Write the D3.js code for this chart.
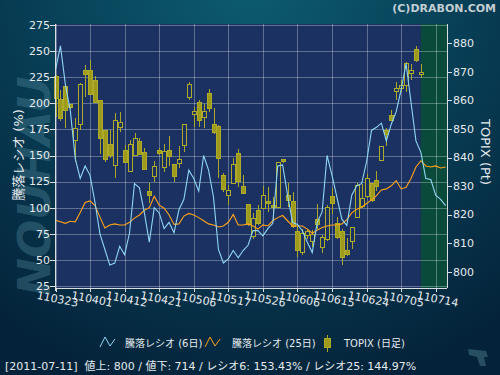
<!DOCTYPE html>
<html>
<head>
<meta charset="utf-8">
<script src="https://cdn.jsdelivr.net/npm/d3@7"></script>
<style>
body{margin:0;background:#04233a;}
svg{display:block;font-family:"DejaVu Sans","Noto Sans CJK JP",sans-serif;}
</style>
</head>
<body>
<svg id="chart" width="500" height="375"></svg>
<script>
// x axis labels (every 7 trading days)
const tickLabels = ["110323","110401","110412","110421","110506","110517","110526","110606","110615","110624","110705","110714"];
const tickIndex = [0,7,14,21,28,35,42,49,56,63,70,77];
const leftTicks = [25,50,75,100,125,150,175,200,225,250,275];
const rightTicks = [800,810,820,830,840,850,860,870,880];

// 騰落レシオ (6日)
const ratio6 = [232,255,218,193,147,128,140,131,105,75,
  60,45,47,63,55,76,123,119,95,67,
  100,95,80,86,76,98,108,136,128,116,
  150,136,110,60,47,51,59,52,59,64,
  78,78,73,80,85,140,141,112,86,84,
  78,67,57,86,96,150,131,110,89,83,
  112,121,123,144,174,177,181,164,180,192,
  213,238,201,164,153,128,127,112,108,102];

// 騰落レシオ (25日)
const ratio25 = [88,86.5,85,87,86.5,95.5,105,106.5,102,91,
  80.5,83.5,84.5,83.5,83.5,86,90,93,97.5,100,
  111,102.5,99.5,93,84,84.5,92,94.5,93,90.5,
  87.5,84.5,83.5,81.5,82.5,86,93.5,83.5,83.5,84.5,
  82.5,79.5,83.5,82.5,87.5,90.5,92.5,87.5,82.5,82.5,
  82.5,79.5,75.5,78.5,81,82.5,83.5,83.5,84.5,88.5,
  95,98.5,100.5,104,107.5,111.5,117,118,121,126,
  118,119.5,128,139,145,140,139,140,138,139];

// TOPIX daily
const topixOpen = [868.3,860.4,864.8,858.6,845.9,851.6,870.6,870.6,867.1,859.8,
  849.6,844.7,837.3,850.4,842.3,835.0,840.8,845.5,841.7,828.0,
  833.5,842.3,836.5,842.6,837.7,837.9,844.3,861.1,854.9,859.3,
  854.0,862.5,851.6,851.0,833.8,826.6,830.9,841.4,829.7,823.6,
  812.2,821.6,822.2,824.7,823.3,822.4,839.3,826.8,824.7,814.2,
  806.7,812.6,810.5,818.4,808.4,811.4,826.5,816.9,814.2,807.6,
  810.7,819.0,822.7,826.2,830.9,832.1,839.1,849.3,854.6,863.0,
  864.0,865.1,869.3,877.9,868.9];
const topixHigh = [868.9,863.6,865.4,858.9,853.9,866.0,872.4,874.1,868.5,859.8,
  849.6,849.6,855.7,855.8,844.4,846.1,848.7,846.9,843.2,831.1,
  838.9,843.4,844.7,847.5,837.7,844.1,851.6,866.5,857.8,860.1,
  858.9,864.0,857.2,851.4,834.4,830.3,839.7,842.9,833.8,823.6,
  820.4,823.3,830.1,829.7,826.2,838.5,839.4,830.9,828.0,816.3,
  815.1,815.1,814.6,823.6,812.8,823.3,829.4,819.2,815.1,811.9,
  815.5,830.9,830.6,834.1,830.9,835.2,844.0,850.4,856.6,866.5,
  867.1,873.3,872.6,879.0,872.6];
const topixLow = [854.3,852.8,850.2,857.0,838.5,849.6,861.3,861.9,859.2,841.4,
  838.5,839.9,832.7,849.0,837.9,834.8,840.6,840.8,835.6,823.9,
  831.5,840.8,835.0,837.0,831.5,836.4,842.0,860.1,850.8,850.8,
  850.2,856.0,848.4,832.7,828.0,823.3,830.7,829.7,827.2,816.1,
  811.6,816.3,821.9,821.0,818.1,822.2,837.9,822.7,815.4,805.2,
  805.8,811.4,808.7,815.1,806.7,810.7,820.1,811.6,802.5,805.6,
  808.1,819.0,822.4,825.9,824.5,828.3,838.9,844.0,852.8,860.1,
  862.8,863.0,867.1,873.5,867.9];
const topixClose = [860.7,853.5,856.6,857.4,850.2,865.6,868.9,862.1,859.3,846.7,
  839.4,840.6,852.8,852.2,838.3,844.4,846.5,841.1,835.9,826.8,
  837.0,841.4,842.0,840.3,833.3,839.4,851.6,865.4,856.0,852.9,
  856.0,857.2,848.8,839.7,828.9,828.3,837.6,831.5,827.4,816.5,
  818.7,816.9,826.8,823.9,822.5,838.2,838.5,825.1,815.7,807.6,
  813.4,814.2,813.1,816.7,811.9,822.5,823.9,811.9,804.9,806.0,
  815.5,830.1,825.7,832.7,825.1,829.7,843.8,848.2,853.1,864.0,
  865.1,873.0,870.3,874.1,869.8];

// status line values
const lastDate = "2011-07-11";
const advances = 800;
const declines = 714;
const lastRatio6 = "153.43";
const lastRatio25 = "144.97";

const svg = d3.select("#chart");
const W = 500, H = 375;
const plotL = 55, plotR = 447, plotT = 24, plotB = 288;

const x = d3.scaleLinear().domain([0, 77]).range([55.5, 435.7]);
const yL = d3.scaleLinear().domain([25, 275]).range([286, 25]);
const yR = d3.scaleLinear().domain([800, 880]).range([271.7, 43.3]);

// background
const defs = svg.append("defs");
const bg = defs.append("radialGradient").attr("id", "bg")
  .attr("gradientUnits", "userSpaceOnUse")
  .attr("cx", 250).attr("cy", -20).attr("r", 420);
bg.append("stop").attr("offset", 0).attr("stop-color", "#0d5c6f");
bg.append("stop").attr("offset", 0.45).attr("stop-color", "#08435a");
bg.append("stop").attr("offset", 1).attr("stop-color", "#04233a");
svg.append("rect").attr("width", W).attr("height", H).attr("fill", "url(#bg)");

// watermark
svg.append("text")
  .attr("transform", "translate(50,186) rotate(-90)")
  .attr("text-anchor", "middle")
  .style("font-size", "45px").style("font-weight", "bold").style("font-style", "italic")
  .attr("fill", "#6aa3b4").attr("fill-opacity", 0.3)
  .text("NOUHAU");

// plot areas
const lastIdx = topixClose.length - 1;
svg.append("rect").attr("x", plotL).attr("y", plotT)
  .attr("width", x(lastIdx) - plotL).attr("height", plotB - plotT)
  .attr("fill", "#1b3161");
svg.append("rect").attr("x", x(lastIdx)).attr("y", plotT)
  .attr("width", plotR - x(lastIdx)).attr("height", plotB - plotT)
  .attr("fill", "#0a4a3b");

// grid
const grid = svg.append("g").attr("stroke", "#ffffff").attr("stroke-opacity", 0.3).attr("shape-rendering", "crispEdges");
grid.selectAll("line.h").data(leftTicks).enter().append("line")
  .attr("x1", plotL).attr("x2", plotR)
  .attr("y1", d => Math.round(yL(d)) + 0.5).attr("y2", d => Math.round(yL(d)) + 0.5);
grid.selectAll("line.v").data(tickIndex).enter().append("line")
  .attr("x1", d => Math.round(x(d)) + 0.5).attr("x2", d => Math.round(x(d)) + 0.5)
  .attr("y1", plotT).attr("y2", plotB);

// candles
const cand = svg.append("g").attr("shape-rendering", "crispEdges");
const idx = d3.range(topixClose.length);
cand.selectAll("line").data(idx).enter().append("line")
  .attr("x1", i => Math.round(x(i)) + 0.5).attr("x2", i => Math.round(x(i)) + 0.5)
  .attr("y1", i => yR(topixHigh[i])).attr("y2", i => yR(topixLow[i]))
  .attr("stroke", "#aaa826");
cand.selectAll("rect").data(idx).enter().append("rect")
  .attr("x", i => Math.round(x(i)) - 1.5)
  .attr("width", 4)
  .attr("y", i => yR(Math.max(topixOpen[i], topixClose[i])))
  .attr("height", i => Math.max(1, Math.abs(yR(topixOpen[i]) - yR(topixClose[i]))))
  .attr("fill", i => topixClose[i] < topixOpen[i] ? "#9d9a1c" : "#1b3161")
  .attr("stroke", "#aeab2a");

// ratio lines
const line = d3.line().x((d, i) => x(i)).y(d => yL(d));
svg.append("path").datum(ratio25).attr("d", line)
  .attr("fill", "none").attr("stroke", "#ffa31a").attr("stroke-width", 1.1);
svg.append("path").datum(ratio6).attr("d", line)
  .attr("fill", "none").attr("stroke", "#8fd6f4").attr("stroke-width", 1.1);

// axes
const ax = svg.append("g").attr("stroke", "#d8dde2").attr("shape-rendering", "crispEdges");
ax.append("line").attr("x1", plotL + 0.5).attr("x2", plotL + 0.5).attr("y1", plotT).attr("y2", plotB + 3);
ax.append("line").attr("x1", plotR + 0.5).attr("x2", plotR + 0.5).attr("y1", plotT).attr("y2", plotB);
ax.append("line").attr("x1", plotL).attr("x2", plotR).attr("y1", plotB + 0.5).attr("y2", plotB + 0.5);
ax.selectAll("line.lt").data(leftTicks).enter().append("line")
  .attr("x1", plotL - 5).attr("x2", plotL)
  .attr("y1", d => Math.round(yL(d)) + 0.5).attr("y2", d => Math.round(yL(d)) + 0.5);
ax.selectAll("line.rt").data(rightTicks).enter().append("line")
  .attr("x1", plotR).attr("x2", plotR + 5)
  .attr("y1", d => Math.round(yR(d)) + 0.5).attr("y2", d => Math.round(yR(d)) + 0.5);
ax.selectAll("line.bt").data(tickIndex).enter().append("line")
  .attr("x1", d => Math.round(x(d)) + 0.5).attr("x2", d => Math.round(x(d)) + 0.5)
  .attr("y1", plotB).attr("y2", plotB + 4);

const txt = "#e6eaee";
svg.append("g").selectAll("text").data(leftTicks).enter().append("text")
  .attr("x", plotL - 5).attr("y", d => yL(d)).attr("dy", "0.35em")
  .attr("text-anchor", "end").attr("fill", txt).style("font-size", "11px")
  .text(d => d);
svg.append("g").selectAll("text").data(rightTicks).enter().append("text")
  .attr("x", plotR + 6).attr("y", d => yR(d)).attr("dy", "0.35em")
  .attr("fill", txt).style("font-size", "11px")
  .text(d => d);
svg.append("g").selectAll("text").data(tickIndex).enter().append("text")
  .attr("transform", (d, k) => `translate(${x(d) + 2},${plotB + 11}) rotate(11)`)
  .attr("dy", "0.35em").attr("text-anchor", "middle")
  .attr("fill", txt).style("font-size", "11px")
  .text((d, k) => tickLabels[k]);

svg.append("text").attr("transform", "translate(18,155) rotate(-90)")
  .attr("text-anchor", "middle").attr("dy", "0.35em")
  .attr("fill", txt).style("font-size", "13px").text("騰落レシオ (%)");
svg.append("text").attr("transform", "translate(486,152) rotate(90)")
  .attr("text-anchor", "middle").attr("dy", "0.35em")
  .attr("fill", txt).style("font-size", "13px").text("TOPIX (Pt)");

// copyright
svg.append("text").attr("x", 496).attr("y", 12).attr("text-anchor", "end")
  .attr("fill", "#c3ced3").style("font-size", "11px").style("font-weight", "bold")
  .text("(C)DRABON.COM");

// legend
const leg = svg.append("g");
const zig = [[0,10],[5,0],[10,9],[15,2]];
const zl = d3.line();
leg.append("path").attr("d", zl(zig.map(p => [100 + p[0], 337 + p[1]])))
  .attr("fill", "none").attr("stroke", "#8fd6f4");
leg.append("text").attr("x", 125).attr("y", 347).attr("fill", txt).style("font-size", "10px").text("騰落レシオ (6日)");
leg.append("path").attr("d", zl(zig.map(p => [205 + p[0], 337 + p[1]])))
  .attr("fill", "none").attr("stroke", "#ffa31a");
leg.append("text").attr("x", 232).attr("y", 347).attr("fill", txt).style("font-size", "10px").text("騰落レシオ (25日)");
leg.append("line").attr("x1", 327.5).attr("x2", 327.5).attr("y1", 335).attr("y2", 352).attr("stroke", "#aaa826");
leg.append("rect").attr("x", 324.5).attr("y", 338.5).attr("width", 6).attr("height", 9)
  .attr("fill", "#9d9a1c").attr("stroke", "#aeab2a");
leg.append("text").attr("x", 344).attr("y", 347).attr("fill", txt).style("font-size", "10px").text("TOPIX (日足)");

// status line
svg.append("text").attr("x", 5).attr("y", 370).attr("fill", txt).style("font-size", "11px")
  .attr("xml:space", "preserve")
  .text(`[${lastDate}]  値上: ${advances} / 値下: ${declines} / レシオ6: ${lastRatio6}% / レシオ25: ${lastRatio25}%`);

// small logo bottom right
svg.append("path").attr("d", "M468,349 L486,351 L488,357 L484,357 L486,366 L480,366 L477,357 L469,355 Z")
  .attr("fill", "#3f6b7c").attr("fill-opacity", 0.6);
</script>
</body>
</html>
